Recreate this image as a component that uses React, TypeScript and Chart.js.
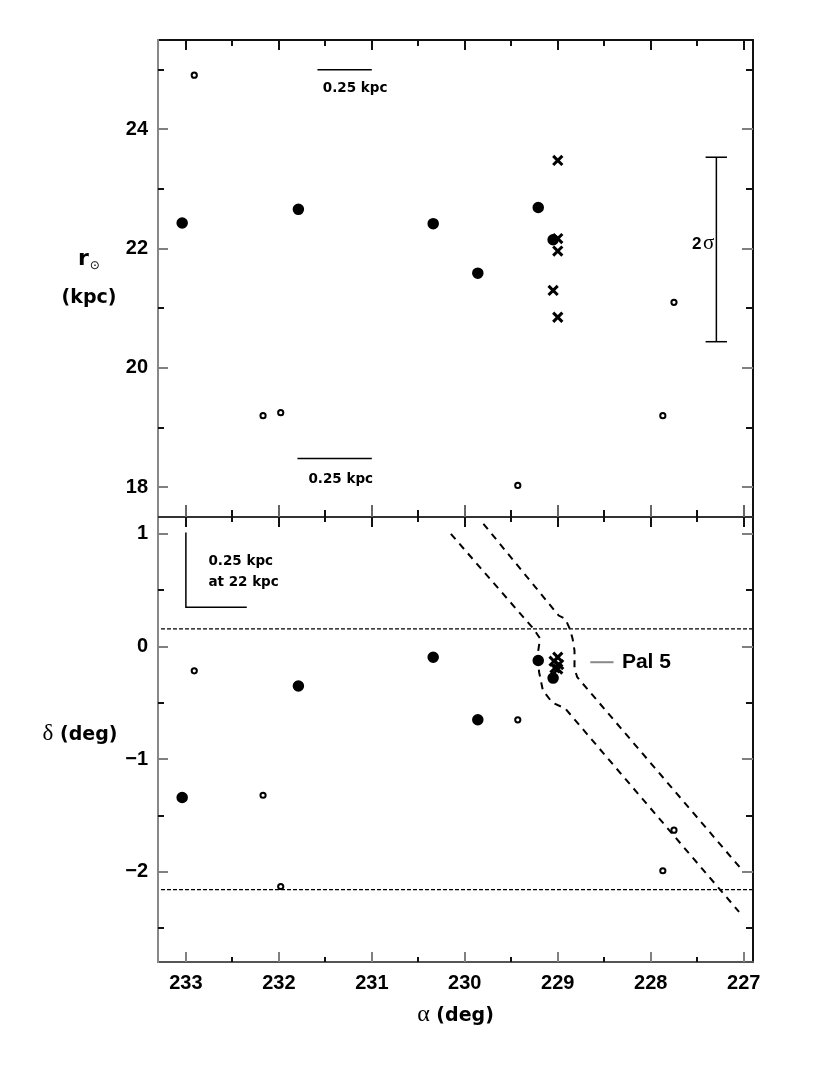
import React, { useEffect, useRef } from 'react';
import { Chart, registerables } from 'chart.js';

Chart.register(...registerables);

// ---- axes ----
const alphaRange = [226.9, 233.3];
const rRange = [17.5, 25.5];
const decRange = [-2.8, 1.15];
const alphaTicks = [233, 232, 231, 230, 229, 228, 227];
const alphaMinorTicks = [232.5, 231.5, 230.5, 229.5, 228.5, 227.5];
const rTicks = [18, 20, 22, 24];
const rMinorTicks = [19, 21, 23, 25];
const decTicks = [1, 0, -1, -2];
const decMinorTicks = [0.5, -0.5, -1.5, -2.5];

// ---- stars: filled circles ----
const alphaFilled = [233.04, 231.79, 230.34, 229.86, 229.21, 229.05];
const rFilled = [22.43, 22.66, 22.42, 21.59, 22.69, 22.15];
const decFilled = [-1.34, -0.35, -0.095, -0.65, -0.124, -0.28];

// ---- stars: open circles ----
const alphaOpen = [232.91, 232.17, 231.98, 229.43, 227.75, 227.87];
const rOpen = [24.91, 19.2, 19.25, 18.03, 21.1, 19.2];
const decOpen = [-0.215, -1.32, -2.13, -0.65, -1.63, -1.99];

// ---- stars: crosses (Pal 5 members) ----
const alphaCrossR = [229.0, 229.0, 229.0, 229.05, 229.0];
const rCross = [23.48, 22.17, 21.96, 21.3, 20.85];
const alphaCrossDec = [229.0, 229.04, 228.99, 229.03, 229.0];
const decCross = [-0.095, -0.13, -0.16, -0.19, -0.2];

// ---- tidal tail outlines ----
const tailEastAlpha = [230.15, 229.26, 229.19, 229.22, 229.2, 229.16, 229.06, 228.92, 227.05];
const tailEastDec = [1.0, 0.157, 0.071, -0.089, -0.23, -0.39, -0.496, -0.55, -2.355];
const tailWestAlpha = [229.8, 228.99, 228.92, 228.87, 228.84, 228.82, 228.82, 228.79, 227.0];
const tailWestDec = [1.09, 0.275, 0.246, 0.157, 0.068, -0.035, -0.198, -0.272, -2.0];

// ---- survey declination limits ----
const decLimits = [0.157, -2.157];

// ---- scale bars & error bar ----
const barUpperAlpha = [231.585, 231.0];
const barUpperR = [25.0, 25.0];
const barLowerAlpha = [231.8, 231.0];
const barLowerR = [18.48, 18.48];
const barDecAlpha = [233.0, 233.0, 232.345];
const barDecDec = [1.013, 0.348, 0.348];
const sigmaAlpha = [227.294, 227.294];
const sigmaR = [20.44, 23.534];
const sigmaCapAlpha = [227.41, 227.18];

const pts = (xs: number[], ys: number[]) => xs.map((x, i) => ({ x, y: ys[i] }));

const lineDs = (data: any[], axis: string, dash: number[], width: number, color = '#000') => ({
  type: 'scatter' as const,
  data,
  yAxisID: axis,
  showLine: true,
  fill: false,
  pointRadius: 0,
  pointHoverRadius: 0,
  borderColor: color,
  borderWidth: width,
  borderDash: dash,
});

const TICK_FONT = { family: 'Liberation Sans', size: 20, weight: 'bold' as const };

const decorPlugin = {
  id: 'decor',
  afterDraw(chart: any) {
    const { ctx, chartArea: ca } = chart;
    const sx = chart.scales.x;
    const st = chart.scales.yTop;
    const sb = chart.scales.yBot;
    const sep = st.bottom;
    ctx.save();
    ctx.lineCap = 'butt';
    const seg = (x1: number, y1: number, x2: number, y2: number, color: string, w: number) => {
      ctx.beginPath();
      ctx.strokeStyle = color;
      ctx.lineWidth = w;
      ctx.moveTo(x1, y1);
      ctx.lineTo(x2, y2);
      ctx.stroke();
    };
    // frame
    seg(ca.left, ca.top, ca.right, ca.top, '#111', 2);
    seg(ca.right, ca.top - 1, ca.right, ca.bottom + 1, '#111', 2);
    seg(ca.left - 1, ca.bottom, ca.right + 1, ca.bottom, '#555', 2);
    seg(ca.left, ca.top - 1, ca.left, ca.bottom + 1, '#888', 2);
    seg(ca.left, sep, ca.right, sep, '#333', 2);

    // x ticks
    const xt = (v: number, major: boolean) => {
      const px = Math.round(sx.getPixelForValue(v));
      seg(px, ca.top, px, ca.top + (major ? 10 : 6), '#111', 2);
      seg(px, sep, px, sep - (major ? 12 : 7), major ? '#666' : '#111', 2);
      seg(px, sep, px, sep + (major ? 10 : 5), '#111', 2);
      seg(px, ca.bottom, px, ca.bottom - (major ? 10 : 5), major ? '#808080' : '#111', 2);
    };
    alphaTicks.forEach((v) => xt(v, true));
    alphaMinorTicks.forEach((v) => xt(v, false));
    // y ticks
    const yt = (scale: any, v: number, major: boolean) => {
      const py = Math.round(scale.getPixelForValue(v));
      seg(ca.left, py, ca.left + (major ? 10 : 6), py, major ? '#808080' : '#111', 2);
      seg(ca.right, py, ca.right - (major ? 11 : 7), py, major ? '#808080' : '#111', 2);
    };
    rTicks.forEach((v) => yt(st, v, true));
    rMinorTicks.forEach((v) => yt(st, v, false));
    decTicks.forEach((v) => yt(sb, v, true));
    decMinorTicks.forEach((v) => yt(sb, v, false));

    // Pal 5 pointer
    const pY = sb.getPixelForValue(-0.139);
    seg(sx.getPixelForValue(228.65), pY, sx.getPixelForValue(228.4), pY, '#888', 2);

    // texts
    ctx.fillStyle = '#000';
    ctx.textAlign = 'left';
    ctx.textBaseline = 'middle';
    const small = 'bold 13.5px "DejaVu Sans"';
    const txt = (t: string, x: number, y: number, font: string, align: CanvasTextAlign = 'left') => {
      ctx.font = font;
      ctx.textAlign = align;
      ctx.textBaseline = 'middle';
      ctx.fillText(t, x, y);
    };
    txt('0.25 kpc', sx.getPixelForValue(231.527), st.getPixelForValue(24.69), small);
    txt('0.25 kpc', sx.getPixelForValue(231.682), st.getPixelForValue(18.132), small);
    txt('0.25 kpc', sx.getPixelForValue(232.758), sb.getPixelForValue(0.756), small);
    txt('at 22 kpc', sx.getPixelForValue(232.758), sb.getPixelForValue(0.57), small);
    txt('Pal 5', sx.getPixelForValue(228.31), sb.getPixelForValue(-0.135), 'bold 21px "Liberation Sans"');

    const runs = (items: { t: string; font: string; dy?: number }[], x: number, baseline: number, align: string) => {
      let total = 0;
      items.forEach((r) => {
        ctx.font = r.font;
        total += ctx.measureText(r.t).width;
      });
      let cx = align === 'center' ? x - total / 2 : align === 'right' ? x - total : x;
      ctx.textAlign = 'left';
      ctx.textBaseline = 'alphabetic';
      items.forEach((r) => {
        ctx.font = r.font;
        ctx.fillText(r.t, cx, baseline + (r.dy || 0));
        cx += ctx.measureText(r.t).width;
      });
    };
    // 2 sigma
    runs(
      [
        { t: '2', font: 'bold 17px "Liberation Sans"' },
        { t: ' ', font: '6px "Liberation Sans"' },
        { t: 'σ', font: '21px "Liberation Serif"' },
      ],
      sx.getPixelForValue(227.315),
      st.getPixelForValue(22.09) + 6,
      'right'
    );
    // axis titles
    const titleFont = 'bold 19px "DejaVu Sans"';
    runs(
      [
        { t: 'r', font: 'bold 22px "DejaVu Sans"' },
        { t: ' ', font: '3px "DejaVu Sans"' },
        { t: '⊙', font: '12px "DejaVu Sans"', dy: 4 },
      ],
      89,
      265,
      'center'
    );
    runs([{ t: '(kpc)', font: titleFont }], 89, 303, 'center');
    runs(
      [
        { t: 'δ', font: '23px "Liberation Serif"' },
        { t: ' (deg)', font: titleFont },
      ],
      80,
      740,
      'center'
    );
    runs(
      [
        { t: 'α', font: '24px "Liberation Serif"' },
        { t: ' (deg)', font: titleFont },
      ],
      (ca.left + ca.right) / 2,
      1021,
      'center'
    );
    ctx.restore();
  },
};

export default function App() {
  const ref = useRef<HTMLCanvasElement>(null);
  useEffect(() => {
    const canvas = ref.current;
    if (!canvas) return;
    const chart = new Chart(canvas, {
      type: 'scatter',
      data: {
        datasets: [
          // points (drawn on top)
          {
            data: pts(alphaFilled, rFilled), yAxisID: 'yTop', pointStyle: 'circle',
            pointRadius: 5, borderWidth: 1.5, backgroundColor: '#000', borderColor: '#000',
          },
          {
            data: pts(alphaFilled, decFilled), yAxisID: 'yBot', pointStyle: 'circle',
            pointRadius: 5, borderWidth: 1.5, backgroundColor: '#000', borderColor: '#000',
          },
          {
            data: pts(alphaOpen, rOpen), yAxisID: 'yTop', pointStyle: 'circle',
            pointRadius: 2.6, borderWidth: 2, backgroundColor: '#fff', borderColor: '#000',
          },
          {
            data: pts(alphaOpen, decOpen), yAxisID: 'yBot', pointStyle: 'circle',
            pointRadius: 2.6, borderWidth: 2, backgroundColor: '#fff', borderColor: '#000',
          },
          {
            data: pts(alphaCrossR, rCross), yAxisID: 'yTop', pointStyle: 'crossRot',
            pointRadius: 6.5, borderWidth: 3, backgroundColor: '#000', borderColor: '#000',
          },
          {
            data: pts(alphaCrossDec, decCross), yAxisID: 'yBot', pointStyle: 'crossRot',
            pointRadius: 6.5, borderWidth: 3, backgroundColor: '#000', borderColor: '#000',
          },
          // lines
          lineDs(pts(tailEastAlpha, tailEastDec), 'yBot', [7, 6], 2),
          lineDs(pts(tailWestAlpha, tailWestDec), 'yBot', [7, 6], 2),
          ...decLimits.map((d) =>
            lineDs(pts(alphaRange, [d, d]), 'yBot', [4, 2], 1.2)
          ),
          lineDs(pts(barUpperAlpha, barUpperR), 'yTop', [], 1.5),
          lineDs(pts(barLowerAlpha, barLowerR), 'yTop', [], 1.5),
          lineDs(pts(barDecAlpha, barDecDec), 'yBot', [], 1.5),
          lineDs(pts(sigmaAlpha, sigmaR), 'yTop', [], 1.5),
          lineDs(pts(sigmaCapAlpha, [sigmaR[0], sigmaR[0]]), 'yTop', [], 1.5),
          lineDs(pts(sigmaCapAlpha, [sigmaR[1], sigmaR[1]]), 'yTop', [], 1.5),
        ] as any,
      },
      options: {
        responsive: false,
        animation: false,
        events: [],
        layout: { padding: { left: 0, top: 40, right: 77, bottom: 0 } },
        plugins: { legend: { display: false }, tooltip: { enabled: false } },
        scales: {
          x: {
            type: 'linear',
            position: 'bottom',
            min: alphaRange[0],
            max: alphaRange[1],
            reverse: true,
            afterBuildTicks: (s: any) => {
              s.ticks = alphaTicks.map((v) => ({ value: v }));
            },
            afterFit: (s: any) => {
              s.height = 113;
            },
            grid: { display: false, drawTicks: false },
            border: { display: false },
            ticks: { autoSkip: false, maxRotation: 0, padding: 9, color: '#000', font: TICK_FONT },
          },
          yBot: {
            type: 'linear',
            position: 'left',
            stack: 'panels',
            stackWeight: 445,
            weight: 1,
            min: decRange[0],
            max: decRange[1],
            afterBuildTicks: (s: any) => {
              s.ticks = decTicks.map((v) => ({ value: v }));
            },
            afterFit: (s: any) => {
              s.width = 158;
            },
            grid: { display: false, drawTicks: false },
            border: { display: false },
            ticks: {
              padding: 10,
              color: '#000',
              font: TICK_FONT,
              callback: (v: any) => String(v).replace('-', '\u2212'),
            },
          },
          yTop: {
            type: 'linear',
            position: 'left',
            stack: 'panels',
            stackWeight: 477,
            weight: 2,
            min: rRange[0],
            max: rRange[1],
            afterBuildTicks: (s: any) => {
              s.ticks = rTicks.map((v) => ({ value: v }));
            },
            afterFit: (s: any) => {
              s.width = 158;
            },
            grid: { display: false, drawTicks: false },
            border: { display: false },
            ticks: { padding: 10, color: '#000', font: TICK_FONT },
          },
        } as any,
      },
      plugins: [decorPlugin],
    });
    return () => chart.destroy();
  }, []);
  return (
    <div style={{ position: 'absolute', left: 0, top: 0, width: 830, height: 1075, background: '#fff' }}>
      <canvas ref={ref} width={830} height={1075} style={{ display: 'block' }} />
    </div>
  );
}
